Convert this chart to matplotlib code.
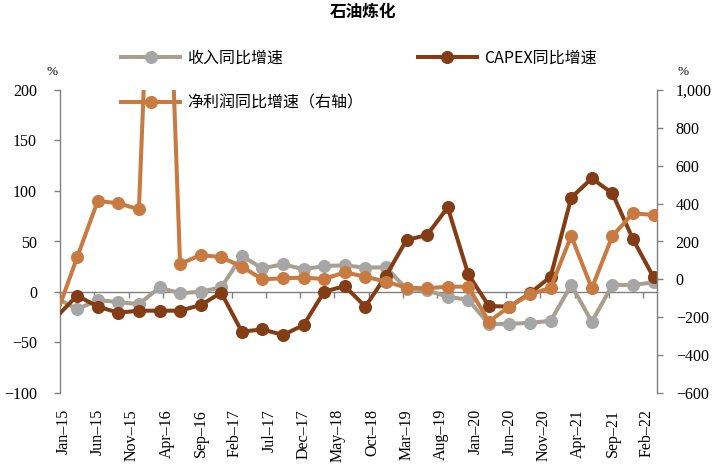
import numpy as np
import pandas as pd
import matplotlib
matplotlib.use('Agg')
import matplotlib.pyplot as plt
from matplotlib.lines import Line2D
from matplotlib.ticker import FuncFormatter

plt.rcParams['font.family'] = ['Liberation Serif', 'Noto Sans CJK SC', 'DejaVu Sans']
plt.rcParams['axes.unicode_minus'] = True

# ---------------- data ----------------
quarters = pd.date_range('2014-12-01', '2022-03-01', freq='3MS')  # quarterly points

revenue = [-6, -17, -8, -10, -12, 4.5, -1.3, 0.3, 4.6, 35.6, 23.4, 27.5, 22.5, 25.7, 26.4,
           24.1, 24.5, 3, 1.5, -4.6, -7.9, -31.7, -31.7, -30.4, -28.7, 6.9, -29.4, 6.9, 6.9, 9.6]
capex = [-24.5, -3.6, -14.5, -20.5, -18.5, -18.5, -18.5, -12.9, -0.7, -39.3, -37, -42.6, -32.7,
         0.3, 5.9, -14.5, 16, 51.5, 56.4, 83.8, 17.5, -13.9, -14.5, -1.3, 15.2, 93.4, 112.5,
         97.7, 52.2, 14.6]
profit = [-185, 117, 414, 402, 370, 3100, 81, 129, 117, 67, 0.5, 5.8, 9, 2, 37.5, 14, -12,
          -44, -47, -38.5, -38.5, -223, -144, -79, -44, 229, -47, 229, 349, 340]

tick_dates = pd.date_range('2015-01-01', '2022-02-01', freq='5MS')
tick_labels = ['Jan–15', 'Jun–15', 'Nov–15', 'Apr–16', 'Sep–16', 'Feb–17', 'Jul–17', 'Dec–17',
               'May–18', 'Oct–18', 'Mar–19', 'Aug–19', 'Jan–20', 'Jun–20', 'Nov–20', 'Apr–21',
               'Sep–21', 'Feb–22']

label_rev = '收入同比增速'
label_capex = 'CAPEX同比增速'
label_profit = '净利润同比增速（右轴）'
title = '石油炼化'


def month_index(d):
    return (d.year - 2015) * 12 + d.month - 1


x = np.array([month_index(d) for d in quarters]) + 0.5
tick_pos = np.array([month_index(d) for d in tick_dates])

gray_line = '#A89F8E'
gray_mark = '#A6A6A6'
brown = '#843C14'
orange = '#C97A40'
spine_c = '#808080'

W, H = 727, 473
fig = plt.figure(figsize=(W / 100, H / 100), dpi=100)
ax = fig.add_axes([60 / W, (H - 393) / H, 597 / W, 303 / H])
ax2 = ax.twinx()

lw = 2.9
ms = 8.4
ax.plot(x, revenue, color=gray_line, lw=lw, marker='o', ms=ms, mfc=gray_mark,
        mec=gray_mark, markevery=slice(1, None), zorder=3)
ax.plot(x, capex, color=brown, lw=lw, marker='o', ms=ms, mfc=brown, mec=brown,
        markevery=slice(1, None), zorder=4)
ax2.plot(x, profit, color=orange, lw=lw, marker='o', ms=ms, mfc=orange, mec=orange,
         markevery=slice(1, None), zorder=5)

ax.set_xlim(0, 87)
ax.set_ylim(-100, 200)
ax2.set_ylim(-600, 1000)
ax.set_yticks(np.arange(-100, 201, 50))
ax2.set_yticks(np.arange(-600, 1001, 200))
ax.yaxis.set_major_formatter(FuncFormatter(lambda v, p: f'{v:.0f}'.replace('-', '\u2212')))
ax2.yaxis.set_major_formatter(FuncFormatter(lambda v, p: f'{v:,.0f}'.replace('-', '\u2212')))

# spines
for s in ['top', 'right']:
    ax.spines[s].set_visible(False)
for s in ['top', 'left', 'bottom']:
    ax2.spines[s].set_visible(False)
ax.spines['left'].set_color(spine_c)
ax2.spines['right'].set_color(spine_c)
ax.spines['bottom'].set_position(('data', 0))
ax.spines['bottom'].set_color(spine_c)
for sp in [ax.spines['left'], ax2.spines['right'], ax.spines['bottom']]:
    sp.set_linewidth(1.0)

ax.set_xticks(tick_pos)
ax.set_xticklabels([])
ax.tick_params(axis='x', direction='out', length=4.5, width=1, color=spine_c)
ax.tick_params(axis='y', direction='out', length=4.5, width=1, color=spine_c,
               pad=12, labelsize=11.5)
ax2.tick_params(axis='y', direction='out', length=4.5, width=1, color=spine_c,
                pad=9, labelsize=11.5)

sec = ax.secondary_xaxis('bottom')
sec.set_xticks(tick_pos + 0.5, labels=tick_labels)
sec.tick_params(axis='x', length=0, pad=11.5, labelsize=11.5, labelrotation=90)
sec.spines['bottom'].set_visible(False)

# legend
handles = [
    Line2D([], [], color=gray_line, lw=lw, marker='o', ms=ms, mfc=gray_mark, mec=gray_mark),
    Line2D([], [], color=orange, lw=lw, marker='o', ms=ms, mfc=orange, mec=orange),
    Line2D([], [], color=brown, lw=lw, marker='o', ms=ms, mfc=brown, mec=brown),
]
fig.legend(handles, [label_rev, label_profit, label_capex], loc='upper left',
           bbox_to_anchor=(121 / W, 1 - 50 / H), ncol=2, frameon=False, borderpad=0,
           borderaxespad=0, handlelength=3.7, handletextpad=0.45, columnspacing=3.4,
           labelspacing=1.75, prop={'family': ['Noto Sans CJK SC'], 'size': 11.5})

fig.text(363 / W, 1 - 12 / H, title, ha='center', va='center', fontsize=12,
         fontweight='bold', family=['Noto Sans CJK SC'])
fig.text(52 / W, 1 - 72 / H, '%', ha='center', va='center', fontsize=9.5)
fig.text(683 / W, 1 - 72 / H, '%', ha='center', va='center', fontsize=9.5)

fig.savefig('out.png', dpi=100)
